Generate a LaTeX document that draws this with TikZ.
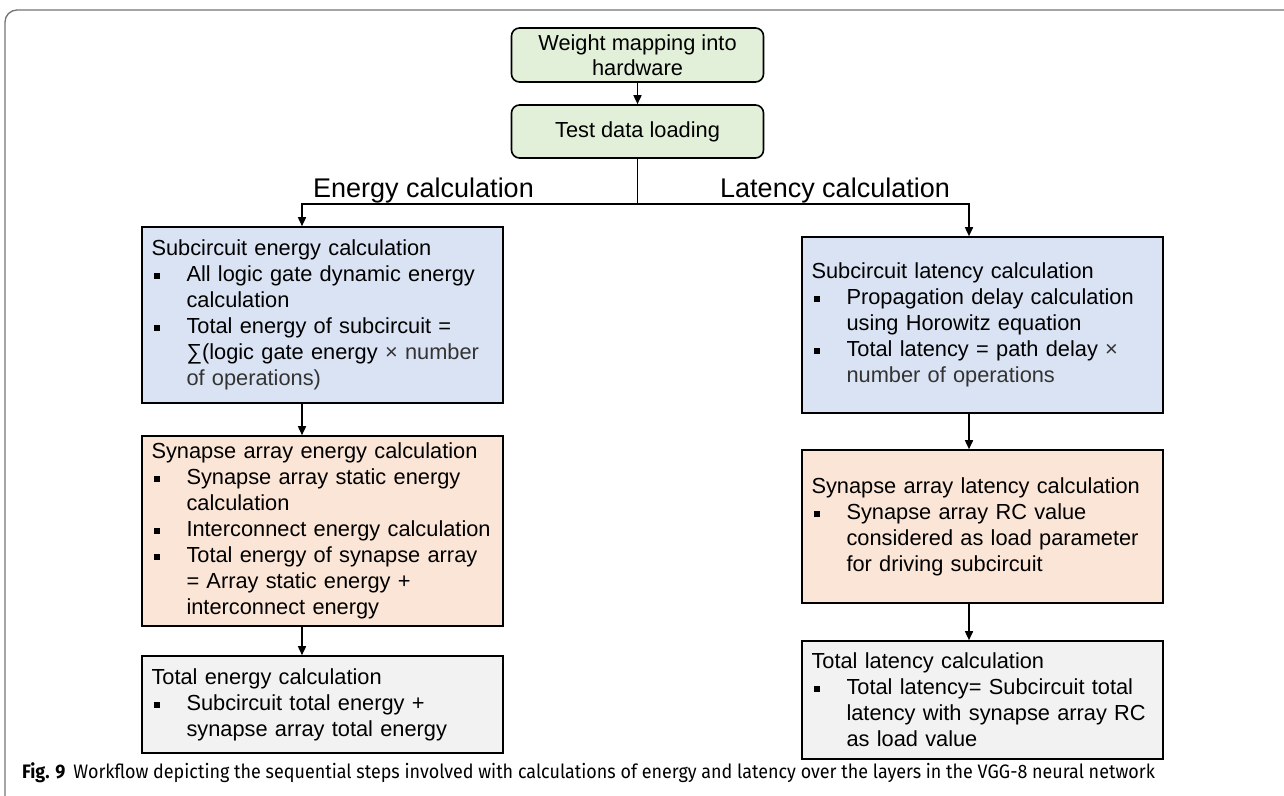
\documentclass[tikz,border=0pt]{standalone}
\usepackage{fontspec}
\setmainfont{Liberation Sans}
\newfontfamily\capfont[FakeStretch=0.92]{Fira Sans}
\usepackage{xcolor}
\usetikzlibrary{arrows.meta}
\definecolor{boxgreen}{HTML}{E2F0D9}
\definecolor{boxblue}{HTML}{DAE3F3}
\definecolor{boxpeach}{HTML}{FBE5D6}
\definecolor{boxgray}{HTML}{F2F2F2}
\newcommand{\nohyph}{\hyphenpenalty 10000 }
\newcommand{\bul}{\par\hangindent=35pt\hangafter=1\noindent\hbox to 35pt{\hskip2pt\raisebox{2.5pt}{\rule{6pt}{6pt}}\hfil}}

\begin{document}
\begin{tikzpicture}[x=1pt,y=-1pt,
  stepbox/.style={draw=black,line width=1.6pt,align=left,text width=342pt,inner xsep=9.5pt,inner ysep=0pt,font=\fontsize{21.8}{26}\selectfont},
  topbox/.style={draw=black,line width=1.6pt,rounded corners=8pt,fill=boxgreen,align=center,minimum width=252pt,inner sep=0pt,font=\fontsize{21.8}{25}\selectfont},
  arr/.style={line width=1.6pt,-{Triangle[length=9pt,width=8pt]}},
  biglabel/.style={anchor=base west,inner sep=0pt,font=\fontsize{27}{30}\selectfont}]
  \useasboundingbox (0,0) rectangle (1284,795);
  \clip (0,0) rectangle (1284,795);
  \draw[black!55,line width=1.3pt,rounded corners=12pt] (5,10) rectangle (1310,830);

  \node[topbox,minimum height=54pt] (map) at (637.5,55) {Weight mapping into\\hardware};
  \node[topbox,minimum height=53pt] (load) at (637.5,131.5) {Test data loading};

  \node[stepbox,fill=boxblue,minimum height=176pt] (subE) at (322.5,315)
    {\nohyph Subcircuit energy calculation\bul All logic gate dynamic energy\newline calculation\bul Total energy of subcircuit =\newline ∑(logic gate energy {\color{black!80}× number\newline of operations)}\par};
  \node[stepbox,fill=boxpeach,minimum height=190pt] (synE) at (322.5,531)
    {\nohyph Synapse array energy calculation\bul Synapse array static energy\newline calculation\bul Interconnect energy calculation\bul Total energy of synapse array\newline = Array static energy +\newline interconnect energy\par};
  \node[stepbox,fill=boxgray,minimum height=97pt] (totE) at (322.5,704.5)
    {\nohyph Total energy calculation\bul Subcircuit total energy +\newline synapse array total energy\par};

  \node[stepbox,fill=boxblue,minimum height=176pt] (subL) at (982.5,325)
    {\nohyph Subcircuit latency calculation\bul Propagation delay calculation\newline using Horowitz equation\bul Total latency = path delay {\color{black!80}×\newline number of operations}\par};
  \node[stepbox,fill=boxpeach,minimum height=153pt] (synL) at (982.5,526.5)
    {\nohyph Synapse array latency calculation\bul Synapse array RC value\newline considered as load parameter\newline for driving subcircuit\par};
  \node[stepbox,fill=boxgray,minimum height=118pt] (totL) at (982.5,700)
    {\nohyph Total latency calculation\bul Total latency= Subcircuit total\newline latency with synapse array RC\newline as load value\par};

  \node[biglabel] (eLab) at (313,197) {Energy calculation};
  \node[biglabel] (lLab) at (720,197) {Latency calculation};

  \coordinate (eL) at (302,204);
  \coordinate (eR) at (969,204);
  \draw[arr] (map) -- (load);
  \draw[line width=1.6pt] (load.south) -- (load.south |- eL);
  \draw[arr] (load.south |- eL) -- (eL) -- (eL |- subE.north);
  \draw[arr] (load.south |- eL) -- (eR) -- (eR |- subL.north);
  \foreach \a/\b in {subE/synE,synE/totE} {
    \draw[arr] (\a.south -| eL) -- (\b.north -| eL);
  }
  \foreach \a/\b in {subL/synL,synL/totL} {
    \draw[arr] (\a.south -| eR) -- (\b.north -| eR);
  }

  \node[anchor=base west,inner sep=0pt,font=\capfont\fontsize{19.5}{22}\selectfont] (cap) at (22,778)
    {\textbf{Fig. 9}\hspace{8pt}Workflow depicting the sequential steps involved with calculations of energy and latency over the layers in the VGG-8 neural network};
\end{tikzpicture}
\end{document}
